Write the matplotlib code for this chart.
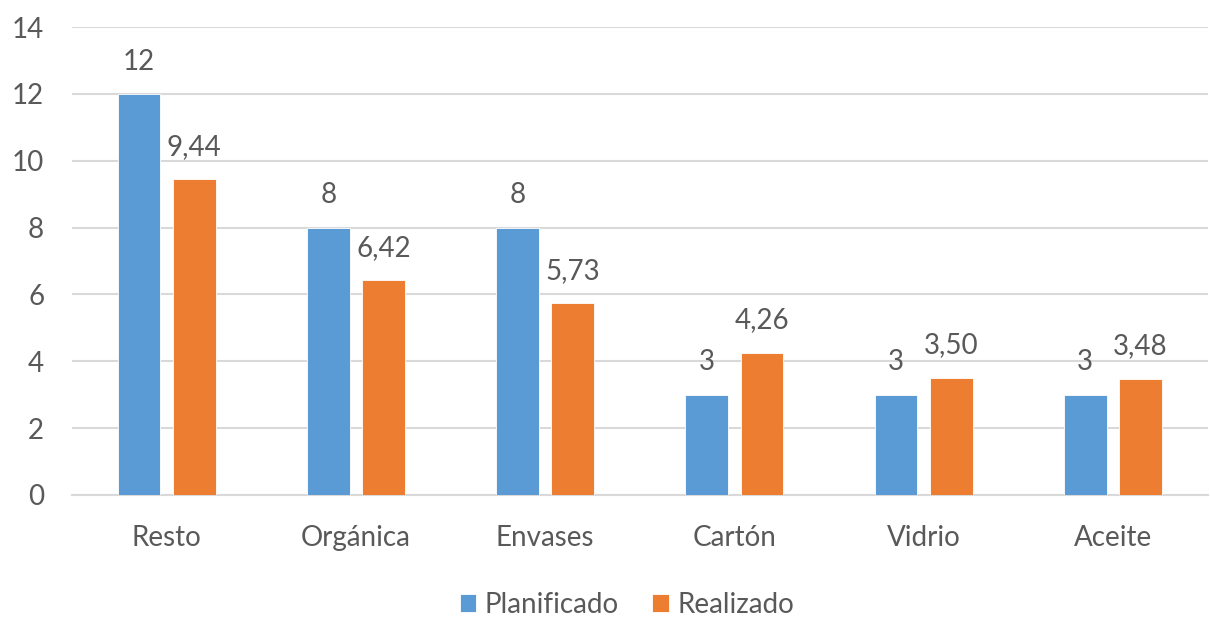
import matplotlib
import matplotlib.pyplot as plt
import numpy as np

matplotlib.use('Agg')

categories = ["Resto", "Orgánica", "Envases", "Cartón", "Vidrio", "Aceite"]
planificado = [12, 8, 8, 3, 3, 3]
realizado = [9.44, 6.42, 5.73, 4.26, 3.50, 3.48]
plan_labels = ["12", "8", "8", "3", "3", "3"]
real_labels = ["9,44", "6,42", "5,73", "4,26", "3,50", "3,48"]

BLUE = "#5B9BD5"
ORANGE = "#ED7D31"
TEXT = "#595959"
GRID = "#D9D9D9"
FS = 20

plt.rcParams['font.family'] = ['Lato', 'DejaVu Sans']

fig = plt.figure(figsize=(12.1, 6.17), dpi=100)
ax = fig.add_axes([0.0595, 0.198, 0.9385, 0.758])

x = np.arange(len(categories))
w = 0.226
off = 0.146
b1 = ax.bar(x - off, planificado, w, color=BLUE, edgecolor="white", linewidth=0.6, label="Planificado", zorder=3)
b2 = ax.bar(x + off, realizado, w, color=ORANGE, edgecolor="white", linewidth=0.6, label="Realizado", zorder=3)

for rect, lab in zip(b1, plan_labels):
    ax.annotate(lab, (rect.get_x() + rect.get_width() / 2, rect.get_height()),
                xytext=(0, 14), textcoords="offset points", ha="center", va="bottom",
                fontsize=FS, color=TEXT)
for rect, lab in zip(b2, real_labels):
    ax.annotate(lab, (rect.get_x() + rect.get_width() / 2, rect.get_height()),
                xytext=(0, 14), textcoords="offset points", ha="center", va="bottom",
                fontsize=FS, color=TEXT)

ax.set_xlim(-0.5, len(categories) - 0.5)
ax.set_ylim(0, 14)
ax.set_yticks(range(0, 15, 2))
ax.set_xticks(x)
ax.set_xticklabels(categories)
ax.tick_params(axis="both", length=0, labelsize=FS, colors=TEXT)
ax.tick_params(axis="x", pad=22)
ax.tick_params(axis="y", pad=20)
ax.yaxis.grid(True, color=GRID, linewidth=1.5, zorder=0)
for s in ["top", "right", "left"]:
    ax.spines[s].set_visible(False)
ax.spines["bottom"].set_color(GRID)
ax.spines["bottom"].set_linewidth(1.5)

fig.legend(loc="center", bbox_to_anchor=(0.518, 0.0195), ncol=2, frameon=False,
           fontsize=FS, labelcolor=TEXT, handlelength=0.6, handleheight=0.6,
           handletextpad=0.3, columnspacing=1.2, borderaxespad=0)

plt.savefig("out.png", dpi=100)
plt.close()
